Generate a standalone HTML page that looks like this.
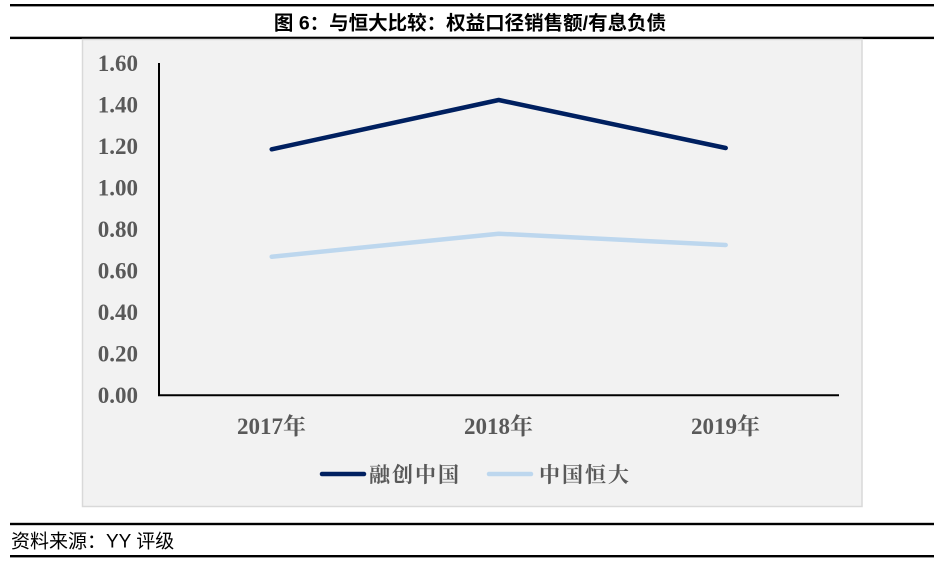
<!DOCTYPE html>
<html><head><meta charset="utf-8"><style>
html,body{margin:0;padding:0;background:#fff;}
svg{display:block;}
</style></head><body>
<svg width="946" height="566" viewBox="0 0 946 566" xmlns="http://www.w3.org/2000/svg">
<rect x="0" y="0" width="946" height="566" fill="#fff"/>
<rect x="10" y="4" width="924" height="2.4" fill="#000"/>
<text x="470" y="29.5" text-anchor="middle" font-family="Liberation Sans, Noto Sans CJK SC, sans-serif" font-weight="bold" font-size="19.5" fill="#000">图 6：与恒大比较：权益口径销售额/有息负债</text>
<rect x="10" y="36.7" width="924" height="2.4" fill="#000"/>
<rect x="82.5" y="39.5" width="779.5" height="467" fill="#f2f2f2" stroke="#d9d9d9" stroke-width="1.5"/>
<g font-family="Liberation Serif, serif" font-weight="bold" font-size="23" fill="#595959" text-anchor="end">
<text x="138" y="71">1.60</text>
<text x="138" y="112.5">1.40</text>
<text x="138" y="154">1.20</text>
<text x="138" y="195.5">1.00</text>
<text x="138" y="237">0.80</text>
<text x="138" y="278.5">0.60</text>
<text x="138" y="320">0.40</text>
<text x="138" y="361.5">0.20</text>
<text x="138" y="403">0.00</text>
</g>
<line x1="159" y1="63" x2="159" y2="396" stroke="#000" stroke-width="2"/>
<line x1="158" y1="395.3" x2="839" y2="395.3" stroke="#000" stroke-width="2"/>
<g font-family="Liberation Serif, Noto Serif CJK SC, serif" font-weight="bold" font-size="23" fill="#595959" text-anchor="middle">
<text x="271.5" y="434">2017年</text>
<text x="498.5" y="434">2018年</text>
<text x="725.5" y="434">2019年</text>
</g>
<polyline points="271.7,149.3 498.7,100 725.7,148" fill="none" stroke="#002060" stroke-width="4.5" stroke-linecap="round" stroke-linejoin="round"/>
<polyline points="271.7,256.7 498.7,233.7 725.7,245" fill="none" stroke="#bdd7ee" stroke-width="4.5" stroke-linecap="round" stroke-linejoin="round"/>
<line x1="322" y1="474" x2="364" y2="474" stroke="#002060" stroke-width="4.5" stroke-linecap="round"/>
<text x="369" y="482" font-family="Noto Serif CJK SC, serif" font-weight="bold" font-size="21" letter-spacing="2" fill="#595959">融创中国</text>
<line x1="489" y1="474" x2="531" y2="474" stroke="#bdd7ee" stroke-width="4.5" stroke-linecap="round"/>
<text x="539" y="482" font-family="Noto Serif CJK SC, serif" font-weight="bold" font-size="21" letter-spacing="2" fill="#595959">中国恒大</text>
<rect x="10" y="522.8" width="924" height="2.4" fill="#000"/>
<text x="11" y="547.5" font-family="Liberation Sans, Noto Sans CJK SC, sans-serif" font-size="19" fill="#000">资料来源：YY 评级</text>
<rect x="10" y="555" width="924" height="2.4" fill="#000"/>
</svg>
</body></html>
